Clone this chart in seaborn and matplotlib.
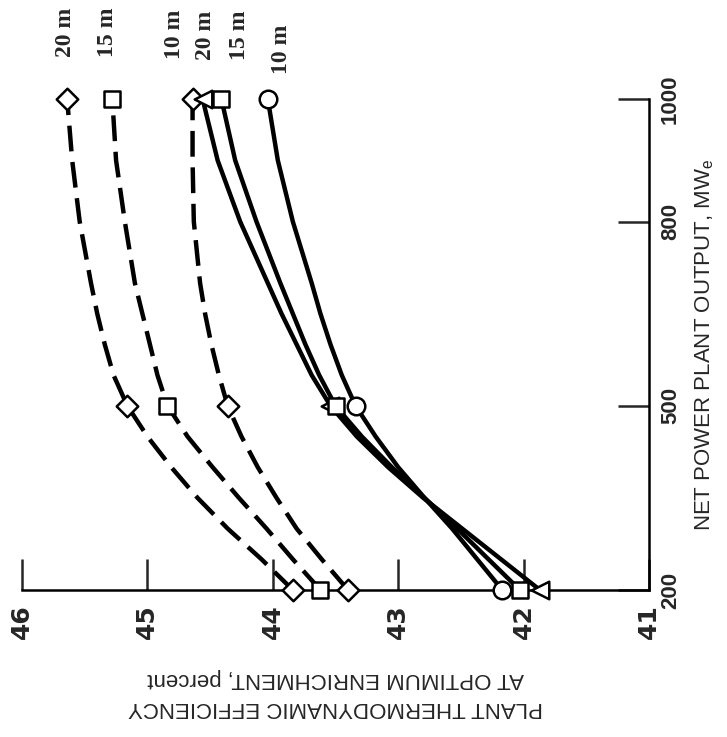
import matplotlib
matplotlib.use('Agg')
import pandas as pd
import matplotlib.pyplot as plt
import seaborn as sns

# net power plant output, MWe
power = [200, 250, 300, 350, 400, 450, 500, 550, 600, 650, 700, 800, 900, 1000]
marker_power = [200, 500, 1000]

# plant efficiency at optimum enrichment, percent
dash_20m = [43.84, 44.09, 44.36, 44.60, 44.81, 45.00, 45.16, 45.27, 45.34, 45.40, 45.45, 45.54, 45.60, 45.64]
dash_15m = [43.62, 43.84, 44.05, 44.27, 44.48, 44.68, 44.84, 44.92, 44.98, 45.04, 45.10, 45.18, 45.25, 45.28]
dash_10m = [43.40, 43.61, 43.81, 43.97, 44.12, 44.25, 44.36, 44.43, 44.49, 44.54, 44.58, 44.63, 44.64, 44.64]
solid_20m = [41.87, 42.18, 42.49, 42.80, 43.08, 43.33, 43.54, 43.69, 43.81, 43.93, 44.04, 44.26, 44.44, 44.56]
solid_15m = [42.03, 42.28, 42.53, 42.79, 43.05, 43.29, 43.50, 43.63, 43.74, 43.84, 43.94, 44.13, 44.30, 44.41]
solid_10m = [42.17, 42.37, 42.57, 42.79, 43.00, 43.18, 43.34, 43.45, 43.54, 43.62, 43.69, 43.84, 43.96, 44.04]

series_names = ['d20', 'd15', 'd10', 's20', 's15', 's10']
series_labels = ['20 m', '15 m', '10 m', '20 m', '15 m', '10 m']
series_kind = ['dashed', 'dashed', 'dashed', 'solid', 'solid', 'solid']
series_data = [dash_20m, dash_15m, dash_10m, solid_20m, solid_15m, solid_10m]

eff_ticks = [46, 45, 44, 43, 42, 41]
power_ticks = [200, 500, 800, 1000]

# build long tables
rows = []
mrows = []
for name, kind, vals in zip(series_names, series_kind, series_data):
    for p, e in zip(power, vals):
        rows.append({'series': name, 'kind': kind, 'power': p, 'eff': e})
        if p in marker_power:
            mrows.append({'series': name, 'power': p, 'eff': e})
df = pd.DataFrame(rows)
mdf = pd.DataFrame(mrows)

sns.set_style('white')
plt.rcParams['font.family'] = ['Liberation Sans', 'DejaVu Sans']

fig = plt.figure(figsize=(7.27, 7.37), dpi=100)
ax = fig.add_axes([0.0303, 0.1995, 0.8624, 0.6662])

# chart is printed turned on its side: efficiency runs along the bottom, power up the right
sns.lineplot(data=df, x='eff', y='power', units='series', estimator=None,
             style='kind', dashes={'dashed': (5.8, 2.4), 'solid': ''},
             color='black', lw=3.2, orient='y', sort=False, legend=False, ax=ax)

marker_map = {'d20': 'D', 'd15': 's', 'd10': 'D', 's20': '<', 's15': 's', 's10': 'o'}
size_map = {'d20': 120, 'd15': 130, 'd10': 120, 's20': 160, 's15': 130, 's10': 160}
for name in series_names:
    sub = mdf[mdf['series'] == name]
    sns.scatterplot(data=sub, x='eff', y='power', marker=marker_map[name],
                    s=size_map[name], color='white', edgecolor='black',
                    linewidth=1.8, zorder=5, clip_on=False, legend=False, ax=ax)

# curve labels above the 1000 MWe points
offsets = {'d20': (-1.5, 30), 'd15': (-3.5, 30), 'd10': (-13, 29),
           's20': (2, 28), 's15': (13, 28), 's10': (10, 18)}
for name, lab, vals in zip(series_names, series_labels, series_data):
    ax.annotate(lab, (vals[-1], power[-1]), xytext=offsets[name],
                textcoords='offset points', rotation=90, ha='center',
                va='bottom', fontsize=17, fontweight='bold',
                family='Liberation Serif', annotation_clip=False)

ax.set_xlim(46, 41)
ax.set_ylim(200, 1000)
ax.set_xticks(eff_ticks)
ax.set_yticks(power_ticks)
ax.yaxis.tick_right()
ax.yaxis.set_label_position('right')

for side in ['top', 'left']:
    ax.spines[side].set_visible(False)
for side in ['bottom', 'right']:
    ax.spines[side].set_linewidth(1.8)
    ax.spines[side].set_color('black')

ax.tick_params(axis='x', direction='in', length=22, width=1.8, pad=10,
               labelsize=18, bottom=True)
ax.tick_params(axis='y', direction='in', length=22, width=1.8, pad=8,
               labelsize=16, right=True, left=False)
for t in ax.get_xticklabels():
    t.set_rotation(90)
    t.set_fontweight('bold')
    t.set_family('DejaVu Sans')
for t in ax.get_yticklabels():
    t.set_rotation(90)
    t.set_va('center')
    t.set_fontweight('bold')

ax.set_xlabel('PLANT THERMODYNAMIC EFFICIENCY\nAT OPTIMUM ENRICHMENT, percent',
              rotation=180, fontsize=16, labelpad=21, linespacing=1.5)
ax.set_ylabel('NET POWER PLANT OUTPUT, MW$_\\mathregular{e}$', rotation=90,
              fontsize=16, labelpad=9)

fig.savefig('out.png', dpi=100)
